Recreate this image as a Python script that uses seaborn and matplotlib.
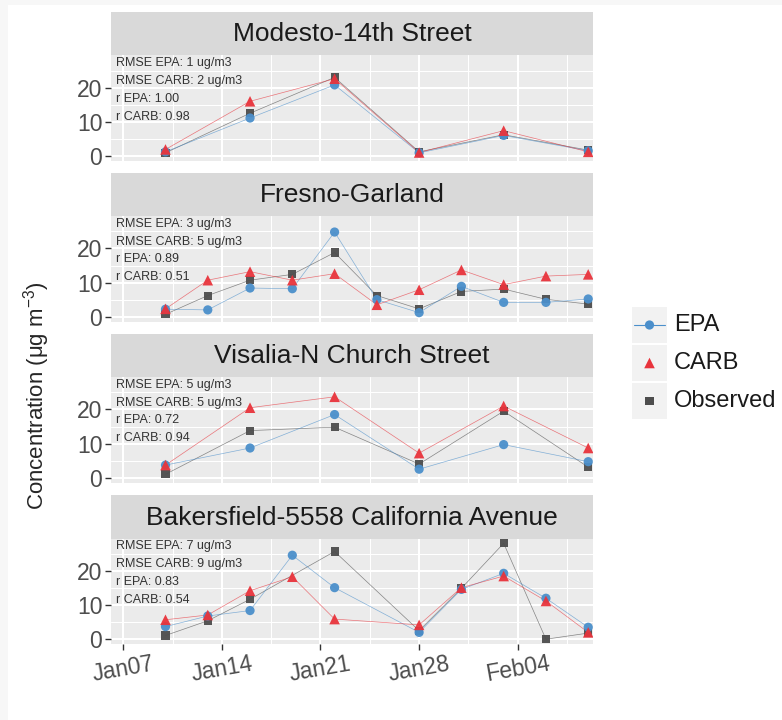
import matplotlib
matplotlib.use("Agg")
import matplotlib.pyplot as plt
import seaborn as sns
import numpy as np
import pandas as pd
from matplotlib.patches import Rectangle
from matplotlib.lines import Line2D

# ---- data ----
stations = ["Modesto-14th Street", "Fresno-Garland",
            "Visalia-N Church Street", "Bakersfield-5558 California Avenue"]

dates_6day = ["2014-01-10", "2014-01-16", "2014-01-22", "2014-01-28",
              "2014-02-03", "2014-02-09"]
dates_3day = ["2014-01-10", "2014-01-13", "2014-01-16", "2014-01-19",
              "2014-01-22", "2014-01-25", "2014-01-28", "2014-01-31",
              "2014-02-03", "2014-02-06", "2014-02-09"]

modesto_epa = [1.2, 11.1, 20.8, 0.9, 6.0, 1.5]
modesto_carb = [1.9, 16.0, 22.6, 1.0, 7.4, 1.2]
modesto_obs = [0.9, 12.5, 23.0, 1.2, 6.2, 1.7]

fresno_epa = [2.2, 2.0, 8.4, 8.2, 24.8, 5.0, 1.2, 8.9, 4.2, 4.2, 5.2]
fresno_carb = [2.3, 10.7, 13.2, 10.7, 12.6, 3.5, 7.9, 13.7, 9.4, 11.9, 12.4]
fresno_obs = [0.7, 6.2, 10.7, 12.4, 18.8, 6.2, 2.3, 7.4, 8.1, 5.1, 3.7]

visalia_epa = [3.7, 8.7, 18.5, 2.5, 9.7, 4.7]
visalia_carb = [3.7, 20.5, 23.7, 7.2, 21.0, 8.7]
visalia_obs = [1.0, 13.8, 14.8, 4.0, 19.5, 3.1]

# no samples on Jan25 at Bakersfield, no observation on Jan19
bakersfield_epa = [3.7, 6.8, 8.4, 24.6, 15.1, np.nan, 2.0, 14.6, 19.3, 12.0, 3.5]
bakersfield_carb = [5.7, 7.1, 14.2, 18.3, 5.9, np.nan, 4.2, 15.1, 18.5, 11.2, 2.0]
bakersfield_obs = [1.1, 5.4, 11.7, np.nan, 25.7, np.nan, 2.5, 14.9, 28.1, 0.0, 1.8]

stats_text = [
    ["RMSE EPA: 1 ug/m3", "RMSE CARB: 2 ug/m3", "r EPA: 1.00", "r CARB: 0.98"],
    ["RMSE EPA: 3 ug/m3", "RMSE CARB: 5 ug/m3", "r EPA: 0.89", "r CARB: 0.51"],
    ["RMSE EPA: 5 ug/m3", "RMSE CARB: 5 ug/m3", "r EPA: 0.72", "r CARB: 0.94"],
    ["RMSE EPA: 7 ug/m3", "RMSE CARB: 9 ug/m3", "r EPA: 0.83", "r CARB: 0.54"],
]

tick_dates = ["2014-01-07", "2014-01-14", "2014-01-21", "2014-01-28", "2014-02-04"]
tick_labels = ["Jan07", "Jan14", "Jan21", "Jan28", "Feb04"]

# ---- build long table ----
series = {
    stations[0]: (dates_6day, modesto_epa, modesto_carb, modesto_obs),
    stations[1]: (dates_3day, fresno_epa, fresno_carb, fresno_obs),
    stations[2]: (dates_6day, visalia_epa, visalia_carb, visalia_obs),
    stations[3]: (dates_3day, bakersfield_epa, bakersfield_carb, bakersfield_obs),
}
rows = []
for st, (dts, epa, carb, obs) in series.items():
    for src, vals in [("EPA", epa), ("CARB", carb), ("Observed", obs)]:
        for d, v in zip(dts, vals):
            rows.append({"station": st, "date": pd.Timestamp(d), "source": src, "value": v})
df = pd.DataFrame(rows).dropna()

colors = {"EPA": "#4b8fcb", "CARB": "#e8343c", "Observed": "#4d4d4d"}
markers = {"EPA": "o", "CARB": "^", "Observed": "s"}
sizes = {"EPA": 44, "CARB": 58, "Observed": 34}

# ---- style ----
sns.set_style("darkgrid", {"axes.facecolor": "#EBEBEB", "grid.color": "white"})
plt.rcParams["font.family"] = ["Liberation Sans", "DejaVu Sans"]
plt.rcParams["mathtext.default"] = "regular"

W, H = 782, 720
fig = plt.figure(figsize=(W / 100, H / 100), dpi=100)


def box(left, top, width, height):
    return [left / W, 1 - (top + height) / H, width / W, height / H]


# grey frame of the screenshot on top and left
fig.patch.set_facecolor("#f7f7f7")
fig.add_artist(Rectangle((8 / W, 0), 1, 1 - 5 / H, transform=fig.transFigure,
                         facecolor="white", edgecolor="none", zorder=-10))

panel_left, panel_w = 110.7, 482.6
strip_tops = [11.7, 172.5, 333.5, 495.0]
strip_h, panel_h = 43.5, 105.5

xmin = pd.Timestamp("2014-01-06 02:40")
xmax = pd.Timestamp("2014-02-09 08:40")
major = pd.to_datetime(tick_dates)
minor = major + pd.Timedelta(hours=84)

for i, st in enumerate(stations):
    top = strip_tops[i]
    sax = fig.add_axes(box(panel_left, top, panel_w, strip_h))
    sax.set_facecolor("#D9D9D9")
    sax.set_xticks([])
    sax.set_yticks([])
    sax.grid(False)
    for sp in sax.spines.values():
        sp.set_visible(False)
    sax.text(0.5, 0.48, st, ha="center", va="center", fontsize=19, color="#1a1a1a",
             transform=sax.transAxes)

    ax = fig.add_axes(box(panel_left, top + strip_h, panel_w, panel_h))
    sub = df[df.station == st]
    for src in ["Observed", "EPA", "CARB"]:
        d = sub[sub.source == src]
        sns.lineplot(data=d, x="date", y="value", color=colors[src], lw=0.5,
                     alpha=0.65, estimator=None, ax=ax, zorder=2)
    for src in ["Observed", "EPA", "CARB"]:
        d = sub[sub.source == src]
        sns.scatterplot(data=d, x="date", y="value", color=colors[src],
                        marker=markers[src], s=sizes[src], edgecolor="none",
                        alpha=0.95, ax=ax, zorder=3, clip_on=True)

    ax.set_xlim(xmin, xmax)
    ax.set_ylim(-1.4, 29.5)
    ax.set_yticks([0, 10, 20])
    ax.set_yticks([5, 15, 25], minor=True)
    ax.set_xticks(major)
    ax.set_xticks(minor, minor=True)
    ax.grid(which="major", color="white", lw=1.5)
    ax.grid(which="minor", color="white", lw=0.75)
    ax.set_xlabel("")
    ax.set_ylabel("")
    for sp in ax.spines.values():
        sp.set_visible(False)
    ax.tick_params(axis="both", which="minor", length=0, bottom=False, left=False)
    ax.tick_params(axis="y", which="major", left=True, length=4, width=1,
                   color="#333333", labelsize=16.5, labelcolor="#4d4d4d", pad=2)
    if i == 3:
        ax.set_xticklabels(tick_labels)
        ax.tick_params(axis="x", which="major", bottom=True, length=4, width=1,
                       color="#333333", labelsize=16.5, labelcolor="#4d4d4d", pad=2)
        for lab in ax.get_xticklabels():
            lab.set_rotation(10)
            lab.set_ha("center")
    else:
        ax.tick_params(axis="x", which="both", bottom=False, labelbottom=False, length=0)

    for txt, yv in zip(stats_text[i], [27.3, 22.0, 16.8, 11.5]):
        ax.text(pd.Timestamp("2014-01-06 12:00"), yv, txt, ha="left", va="center",
                fontsize=9, color="#333333", zorder=4)

fig.text(37 / W, 1 - 396 / H, r"Concentration (μg m$^{-3}$)", rotation=90,
         ha="center", va="center", fontsize=16)

# ---- legend ----
lax = fig.add_axes(box(625, 300, 157, 125))
lax.set_xlim(625, 782)
lax.set_ylim(425, 300)
lax.axis("off")
key_tops = [307, 345, 383]
for src, kt in zip(["EPA", "CARB", "Observed"], key_tops):
    lax.add_patch(Rectangle((632, kt), 35, 36, facecolor="#F2F2F2", edgecolor="none"))
    cy = kt + 18
    if src == "EPA":
        lax.add_line(Line2D([634, 665], [cy, cy], color=colors[src], lw=0.8))
    lax.scatter([649.5], [cy], marker=markers[src], s=sizes[src], color=colors[src],
                edgecolor="none", zorder=3)
    lax.text(674, cy, src, ha="left", va="center", fontsize=17, color="#1a1a1a")

fig.savefig("out.png", dpi=100)
